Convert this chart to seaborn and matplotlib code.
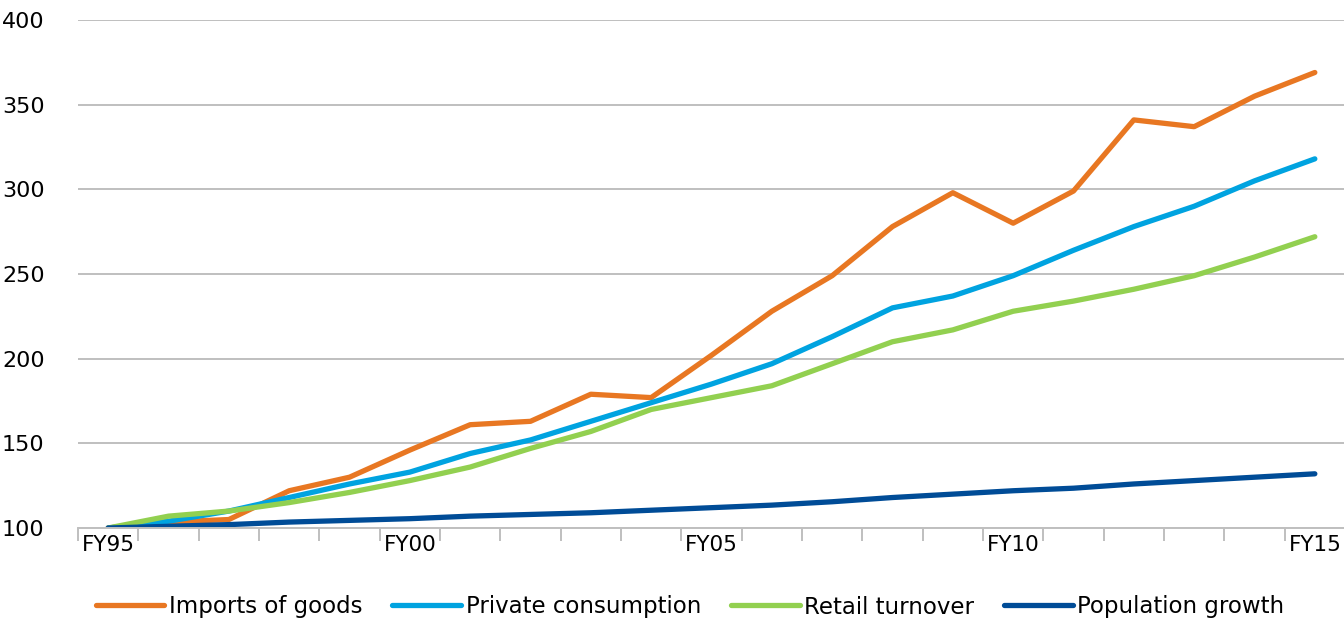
import matplotlib
matplotlib.use('Agg')
import matplotlib.pyplot as plt
import seaborn as sns
import pandas as pd
import numpy as np

# Datos (índice FY95 = 100)
years = ['FY95', 'FY96', 'FY97', 'FY98', 'FY99', 'FY00', 'FY01', 'FY02', 'FY03', 'FY04',
         'FY05', 'FY06', 'FY07', 'FY08', 'FY09', 'FY10', 'FY11', 'FY12', 'FY13', 'FY14', 'FY15']
imports_goods = [100, 103.5, 105, 122, 130, 146, 161, 163, 179, 177,
                 202, 228, 249, 278, 298, 280, 299, 341, 337, 355, 369]
private_consumption = [100, 104, 110, 118, 126, 133, 144, 152, 163, 174,
                       185, 197, 213, 230, 237, 249, 264, 278, 290, 305, 318]
retail_turnover = [100, 107, 110, 115, 121, 128, 136, 147, 157, 170,
                   177, 184, 197, 210, 217, 228, 234, 241, 249, 260, 272]
population_growth = [100, 101, 102, 103.5, 104.5, 105.5, 107, 108, 109, 110.5,
                     112, 113.5, 115.5, 118, 120, 122, 123.5, 126, 128, 130, 132]

series = {
    'Imports of goods': imports_goods,
    'Private consumption': private_consumption,
    'Retail turnover': retail_turnover,
    'Population growth': population_growth,
}
colores = {
    'Imports of goods': '#E87722',
    'Private consumption': '#00A3E0',
    'Retail turnover': '#92D050',
    'Population growth': '#004C97',
}

df = pd.DataFrame([
    {'idx': i, 'year': y, 'serie': nombre, 'valor': v}
    for nombre, vals in series.items()
    for i, (y, v) in enumerate(zip(years, vals))
])

sns.set_style('white')
plt.rcParams['font.family'] = ['DejaVu Sans']
plt.rcParams['text.color'] = 'black'

fig = plt.figure(figsize=(13.44, 6.21), dpi=100)
ax = fig.add_axes([78 / 1344, 1 - 528 / 621, (1345 - 78) / 1344, (528 - 20) / 621])

sns.lineplot(data=df, x='idx', y='valor', hue='serie', palette=colores,
             linewidth=3.8, ax=ax, legend=False, solid_capstyle='round')

ax.set_xlim(-0.5, len(years) - 0.5)
ax.set_ylim(100, 400)
ax.set_yticks(np.arange(100, 401, 50))
ax.yaxis.grid(True, color='#BFBFBF', linewidth=1.4)
ax.set_axisbelow(True)

ax.set_xticks(range(0, len(years), 5))
ax.set_xticklabels(years[::5])
ax.set_xticks(np.arange(-0.5, len(years), 1), minor=True)
ax.tick_params(axis='x', which='major', bottom=True, length=0, pad=5,
               labelsize=15.5, labelcolor='black')
ax.tick_params(axis='x', which='minor', bottom=True, length=9, width=1.4,
               color='#BFBFBF', direction='out')
ax.tick_params(axis='y', length=0, pad=24, labelsize=16, labelcolor='black')

for s in ['top', 'right', 'left']:
    ax.spines[s].set_visible(False)
ax.spines['bottom'].set_color('#BFBFBF')
ax.spines['bottom'].set_linewidth(1.4)
ax.set_xlabel('')
ax.set_ylabel('')

handles = [plt.Line2D([0], [0], color=colores[n], linewidth=3.8, solid_capstyle='round')
           for n in series]
fig.legend(handles, list(series.keys()), loc='center', ncol=4,
           bbox_to_anchor=(0.5 + 18 / 1344, 1 - 607 / 621), frameon=False,
           fontsize=16.5, handlelength=3.0, handletextpad=0.2, columnspacing=1.3,
           borderpad=0)

fig.savefig('out.png', dpi=100)
